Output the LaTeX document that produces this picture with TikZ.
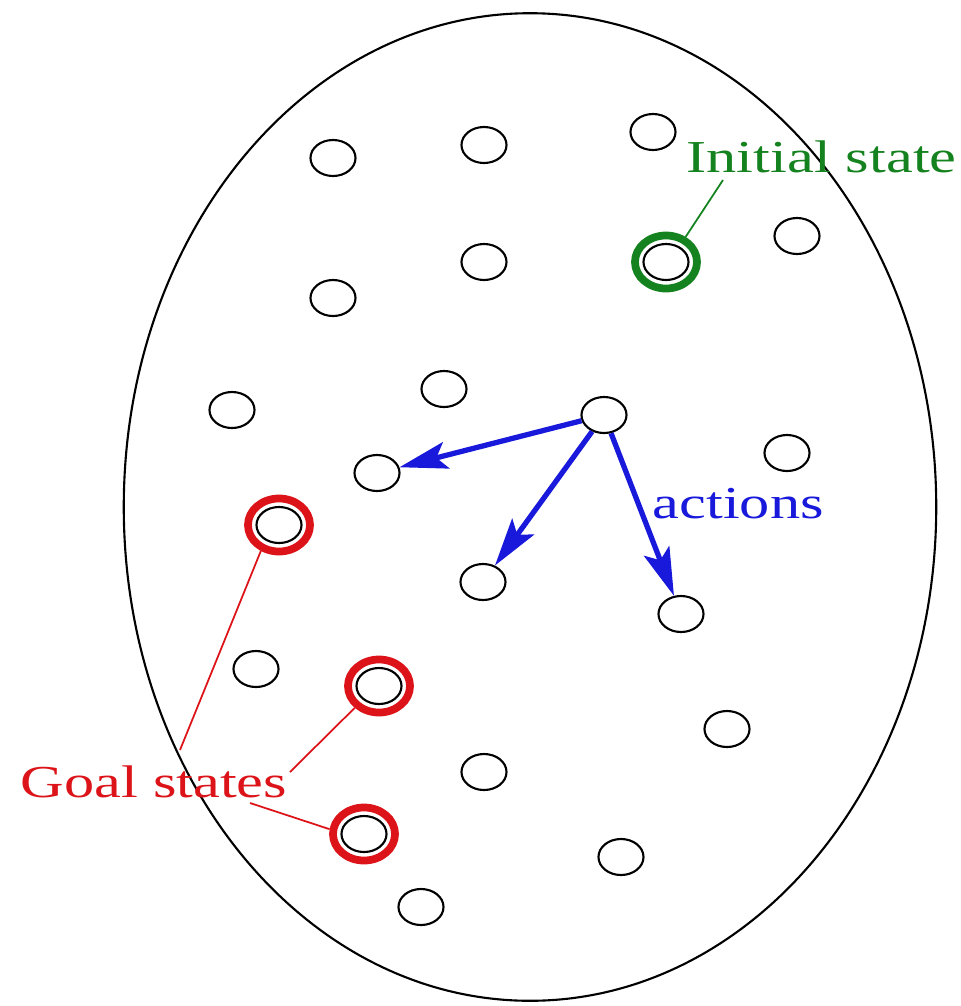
\documentclass[tikz,border=0pt]{standalone}
\usepackage{fontspec}
\setmainfont{Liberation Serif}
\usepackage{graphicx}
\usepackage{tikz}
\usetikzlibrary{shapes.geometric, arrows.meta, positioning}
\definecolor{initgreen}{RGB}{20,130,30}
\definecolor{goalred}{RGB}{220,20,25}
\definecolor{actblue}{RGB}{25,25,220}
\tikzstyle{actionarrow} = [line width=1.5pt, actblue, -{Stealth[length=0.48cm, width=0.27cm, inset=0.1cm]}]
\tikzstyle{pointer} = [line width=0.5pt]
\newcommand{\widetext}[1]{\scalebox{1.32}[1]{#1}}

\begin{document}
\begin{tikzpicture}[
    x=0.01cm, y=-0.01cm,
    state/.style={ellipse, draw, line width=0.6pt, minimum width=0.45cm, minimum height=0.36cm, inner sep=0},
    marked/.style={ellipse, draw, line width=2.2pt, minimum width=0.62cm, minimum height=0.53cm, inner sep=0},
    lbl/.style={font=\fontsize{13}{15}\selectfont, inner sep=0, anchor=base west}
]
    \useasboundingbox (0,0) rectangle (961,1006);
    \node[ellipse, draw, line width=0.6pt, minimum width=8.12cm, minimum height=9.87cm] (space) at (530,507) {};

    \node[state] (s1) at (333,158) {};
    \node[state] (s2) at (484,145) {};
    \node[state] (s3) at (653,132) {};
    \node[state] (s4) at (797,236) {};
    \node[state] (s5) at (484,262) {};
    \node[state] (s6) at (333,298) {};
    \node[state] (s7) at (444,389) {};
    \node[state] (s8) at (232,410) {};
    \node[state] (act) at (604,415) {};
    \node[state] (s10) at (787,453) {};
    \node[state] (s11) at (377,473) {};
    \node[state] (s12) at (483,582) {};
    \node[state] (s13) at (681,614) {};
    \node[state] (s14) at (256,669) {};
    \node[state] (s15) at (727,729) {};
    \node[state] (s16) at (484,772) {};
    \node[state] (s17) at (621,857) {};
    \node[state] (s18) at (421,907) {};

    \node[marked, draw=initgreen] (init) at (666,262) {};
    \node[state] (initin) at (init) {};

    \node[marked, draw=goalred] (goal1) at (279,525) {};
    \node[state] (goal1in) at (goal1) {};
    \node[marked, draw=goalred] (goal2) at (379,686) {};
    \node[state] (goal2in) at (goal2) {};
    \node[marked, draw=goalred] (goal3) at (364,834) {};
    \node[state] (goal3in) at (goal3) {};

    \draw[actionarrow] (act) -- (s11);
    \draw[actionarrow] (act) -- (s12);
    \draw[actionarrow] (act) -- (s13);

    \node[lbl, text=initgreen] (initlabel) at (686,172) {\widetext{Initial state}};
    \node[lbl, text=actblue] (actlabel) at (652,518) {\widetext{actions}};
    \node[lbl, text=goalred] (goallabel) at (20,797) {\widetext{Goal states}};

    \coordinate (initend) at (723,180);
    \coordinate (goalend1) at (180,750);
    \coordinate (goalend2) at (290,772);
    \coordinate (goalend3) at (250,803);

    \draw[pointer, initgreen] (init.52) -- (initend);
    \draw[pointer, goalred] (goal1.235) -- (goalend1);
    \draw[pointer, goalred] (goal2.222) -- (goalend2);
    \draw[pointer, goalred] (goal3.172) -- (goalend3);
\end{tikzpicture}
\end{document}
